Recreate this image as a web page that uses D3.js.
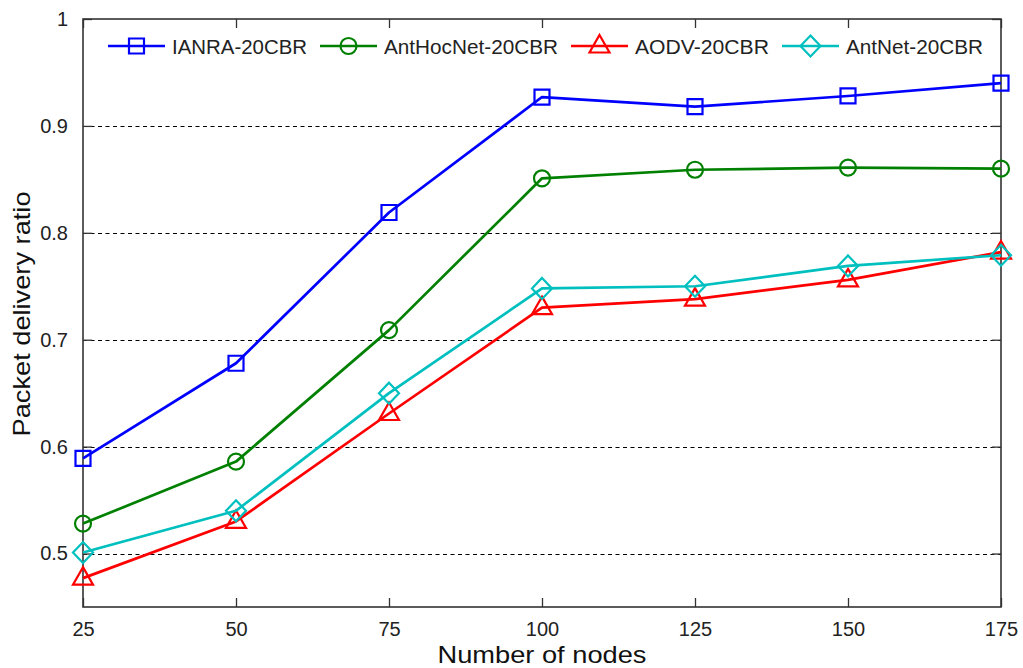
<!DOCTYPE html>
<html>
<head>
<meta charset="utf-8">
<script src="https://cdn.jsdelivr.net/npm/d3@7"></script>
<style>
  html, body { margin: 0; padding: 0; background: #fff; }
  svg { display: block; font-family: Arial, "Liberation Sans", Helvetica, sans-serif; }
</style>
</head>
<body>
<svg id="chart" width="1023" height="668"></svg>
<script>
// Packet delivery ratio versus network size for four routing protocols
const nodes = [25, 50, 75, 100, 125, 150, 175];
const ianra     = [0.589, 0.678, 0.819, 0.927, 0.918, 0.928, 0.940];
const antHocNet = [0.528, 0.586, 0.709, 0.851, 0.859, 0.861, 0.860];
const aodv      = [0.477, 0.530, 0.631, 0.730, 0.738, 0.756, 0.782];
const antNet    = [0.501, 0.540, 0.650, 0.748, 0.750, 0.769, 0.779];
const seriesNames = ["IANRA-20CBR", "AntHocNet-20CBR", "AODV-20CBR", "AntNet-20CBR"];
const yTicks = [0.5, 0.6, 0.7, 0.8, 0.9, 1];
const yTickLabels = ["0.5", "0.6", "0.7", "0.8", "0.9", "1"];

const series = [
  { name: seriesNames[0], values: ianra,     color: "#0000ff", marker: "square" },
  { name: seriesNames[1], values: antHocNet, color: "#008000", marker: "circle" },
  { name: seriesNames[2], values: aodv,      color: "#ff0000", marker: "triangle" },
  { name: seriesNames[3], values: antNet,    color: "#00bfbf", marker: "diamond" }
];

const svg = d3.select("#chart");
const m = { left: 83, right: 1001, top: 19, bottom: 607 };

const x = d3.scaleLinear().domain([25, 175]).range([m.left, m.right]);
const y = d3.scaleLinear().domain([0.45, 1]).range([m.bottom, m.top]);

const axisColor = "#333";

// dashed horizontal grid
svg.append("g")
  .selectAll("line")
  .data(yTicks.filter(v => v < 1))
  .join("line")
  .attr("x1", m.left).attr("x2", m.right)
  .attr("y1", d => Math.round(y(d)) + 0.5).attr("y2", d => Math.round(y(d)) + 0.5)
  .attr("stroke", "#000").attr("stroke-width", 1.2)
  .attr("stroke-dasharray", "4,3.5");

// axes with inward ticks
const tickLen = 9;
const xAxisB = d3.axisBottom(x).tickValues(nodes).tickSize(-tickLen).tickPadding(tickLen + 6).tickFormat(d3.format("d"));
const xAxisT = d3.axisTop(x).tickValues(nodes).tickSize(-tickLen).tickFormat("");
const yAxisL = d3.axisLeft(y).tickValues(yTicks).tickSize(-tickLen).tickPadding(tickLen + 6)
  .tickFormat((d, i) => yTickLabels[i]);
const yAxisR = d3.axisRight(y).tickValues(yTicks).tickSize(-tickLen).tickFormat("");

function styleAxis(g) {
  g.select(".domain").remove();
  g.selectAll(".tick line").attr("stroke", axisColor).attr("stroke-width", 1.3);
  g.selectAll(".tick text").attr("fill", "#222").attr("font-size", 20)
    .attr("font-family", "Arial, 'Liberation Sans', sans-serif");
}

svg.append("g").attr("transform", `translate(0,${m.bottom})`).call(xAxisB).call(styleAxis);
svg.append("g").attr("transform", `translate(0,${m.top})`).call(xAxisT).call(styleAxis);
svg.append("g").attr("transform", `translate(${m.left},0)`).call(yAxisL).call(styleAxis);
svg.append("g").attr("transform", `translate(${m.right},0)`).call(yAxisR).call(styleAxis);

// frame
svg.append("rect")
  .attr("x", m.left).attr("y", m.top)
  .attr("width", m.right - m.left).attr("height", m.bottom - m.top)
  .attr("fill", "none").attr("stroke", axisColor).attr("stroke-width", 1.6);

// marker shapes (open, line shows through)
function markerPath(type) {
  switch (type) {
    case "square":   return "M-7.5,-7.5H7.5V7.5H-7.5Z";
    case "circle":   return d3.symbol(d3.symbolCircle, Math.PI * 8 * 8)();
    case "triangle": return "M0,-11L10,6.5H-10Z";
    case "diamond":  return "M0,-10.5L10,0L0,10.5L-10,0Z";
  }
}

const line = d3.line().x((d, i) => x(nodes[i])).y(d => y(d));

series.forEach(s => {
  const g = svg.append("g");
  g.append("path")
    .attr("d", line(s.values))
    .attr("fill", "none").attr("stroke", s.color)
    .attr("stroke-width", 2.7).attr("stroke-linejoin", "round");
  g.selectAll("path.mk")
    .data(s.values)
    .join("path").attr("class", "mk")
    .attr("d", markerPath(s.marker))
    .attr("transform", (d, i) => `translate(${x(nodes[i])},${y(d)})`)
    .attr("fill", "none").attr("stroke", s.color).attr("stroke-width", 2.2);
});

// legend across the top of the plot
const legendX = [108, 320, 571, 782];
const legendTextLen = [135, 174, 134, 137];
const legend = svg.append("g").attr("transform", "translate(0,46)");
series.forEach((s, i) => {
  const item = legend.append("g").attr("transform", `translate(${legendX[i]},0)`);
  item.append("line").attr("x1", 0).attr("x2", 57).attr("y1", 0).attr("y2", 0)
    .attr("stroke", s.color).attr("stroke-width", 2.7);
  item.append("path").attr("d", markerPath(s.marker))
    .attr("transform", "translate(28.5,0)")
    .attr("fill", "none").attr("stroke", s.color).attr("stroke-width", 2.2);
  item.append("text").attr("x", 64).attr("y", 7.5)
    .attr("font-size", 20).attr("fill", "#222")
    .attr("textLength", legendTextLen[i]).attr("lengthAdjust", "spacingAndGlyphs")
    .text(s.name);
});

// axis titles
svg.append("text")
  .attr("x", (m.left + m.right) / 2).attr("y", 663)
  .attr("text-anchor", "middle").attr("font-size", 24).attr("fill", "#111")
  .attr("textLength", 209).attr("lengthAdjust", "spacingAndGlyphs")
  .text("Number of nodes");

svg.append("text")
  .attr("transform", `translate(30,${314}) rotate(-90)`)
  .attr("text-anchor", "middle").attr("font-size", 24).attr("fill", "#111")
  .attr("textLength", 245).attr("lengthAdjust", "spacingAndGlyphs")
  .text("Packet delivery ratio");
</script>
</body>
</html>
